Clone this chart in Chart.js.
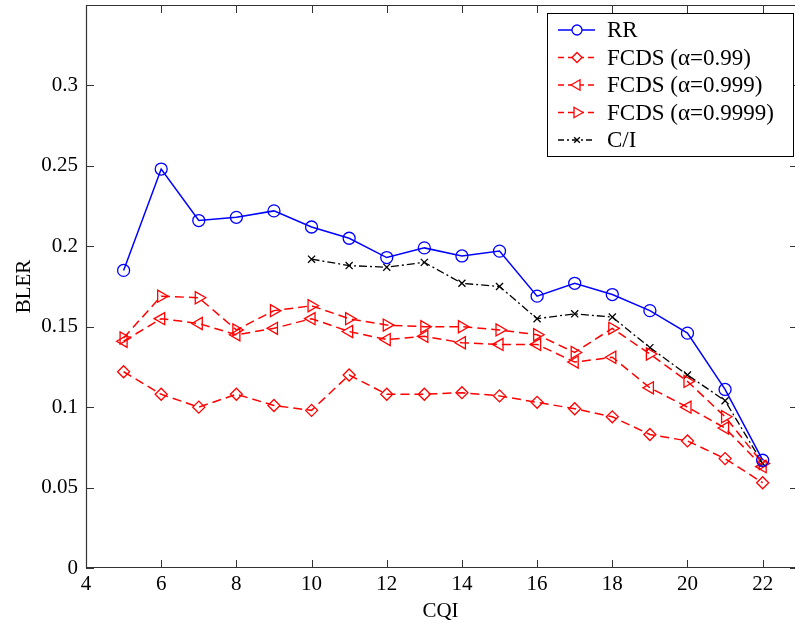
<!DOCTYPE html>
<html><head><meta charset="utf-8">
<script src="https://cdn.jsdelivr.net/npm/chart.js@4"></script>
<style>html,body{margin:0;padding:0;background:#fff}#w{width:795px;height:624px}</style>
</head><body><div id="w"><canvas id="c"></canvas></div>
<script>
const cqi = [5,6,7,8,9,10,11,12,13,14,15,16,17,18,19,20,21,22];
const cqiCI = [10,11,12,13,14,15,16,17,18,19,20,21,22];
const rr = [0.185,0.248,0.216,0.218,0.222,0.212,0.205,0.193,0.199,0.194,0.197,0.169,0.177,0.170,0.160,0.146,0.111,0.067];
const fcds99 = [0.122,0.108,0.100,0.108,0.101,0.098,0.120,0.108,0.108,0.109,0.107,0.103,0.099,0.094,0.083,0.079,0.068,0.053];
const fcds999 = [0.141,0.155,0.152,0.145,0.149,0.155,0.147,0.142,0.144,0.140,0.139,0.139,0.128,0.131,0.112,0.100,0.087,0.063];
const fcds9999 = [0.143,0.169,0.168,0.148,0.160,0.163,0.155,0.151,0.150,0.150,0.148,0.145,0.134,0.149,0.133,0.116,0.094,0.065];
const ci = [0.192,0.188,0.187,0.190,0.177,0.175,0.155,0.158,0.156,0.137,0.120,0.104,0.065];
const xTicks = [4,6,8,10,12,14,16,18,20,22];
const yTicks = [0,0.05,0.1,0.15,0.2,0.25,0.3];
const labels = ['RR','FCDS (\u03B1=0.99)','FCDS (\u03B1=0.999)','FCDS (\u03B1=0.9999)','C/I'];

const FONT = '"Liberation Serif", "Times New Roman", serif';
const pts = (xs, ys) => xs.map((x,i)=>({x, y: ys[i]}));
const RED = '#ff0000';
function ds(label, data, color, dash, style, rot, r, width){
  return {label, data, borderColor: color, backgroundColor: 'rgba(0,0,0,0)', pointBorderColor: color,
    pointBackgroundColor: 'rgba(0,0,0,0)', borderWidth: width, borderDash: dash, pointStyle: style,
    pointRotation: rot, pointRadius: r, pointBorderWidth: 1.3, tension: 0, fill: false};
}
const datasets = [
  ds(labels[0], pts(cqi, rr), '#0000ff', [], 'circle', 0, 6, 1.5),
  ds(labels[1], pts(cqi, fcds99), RED, [9,5], 'rectRot', 0, 6, 1.5),
  ds(labels[2], pts(cqi, fcds999), RED, [9,5], 'triangle', -90, 7, 1.5),
  ds(labels[3], pts(cqi, fcds9999), RED, [9,5], 'triangle', 90, 7, 1.5),
  ds(labels[4], pts(cqiCI, ci), '#000000', [8,3,2,3], 'crossRot', 0, 5, 1.3)
];

const frame = {
  id: 'frame',
  afterDatasetsDraw(chart){
    const {ctx, chartArea: a, scales: {x, y}} = chart;
    ctx.save();
    ctx.strokeStyle = '#333'; ctx.lineWidth = 1.2; ctx.setLineDash([]);
    ctx.beginPath();
    ctx.moveTo(a.right+2, a.top+0.5); ctx.lineTo(a.left+0.5, a.top+0.5);
    ctx.lineTo(a.left+0.5, a.bottom-0.5); ctx.lineTo(a.right+2, a.bottom-0.5);
    ctx.stroke();
    const tl = 8;
    ctx.lineWidth = 1;
    ctx.beginPath();
    xTicks.forEach(v=>{ const px = Math.round(x.getPixelForValue(v))+0.5;
      ctx.moveTo(px, a.bottom); ctx.lineTo(px, a.bottom-tl);
      ctx.moveTo(px, a.top); ctx.lineTo(px, a.top+tl); });
    yTicks.forEach(v=>{ const py = Math.round(y.getPixelForValue(v))+0.5;
      ctx.moveTo(a.left, py); ctx.lineTo(a.left+tl, py);
      ctx.moveTo(a.right+2, py); ctx.lineTo(a.right-5, py); });
    ctx.stroke();
    // legend
    const lx = 547, ly = 13, lw = 246, lh = 143;
    ctx.strokeStyle = '#000';
    ctx.fillStyle = '#fff'; ctx.fillRect(lx, ly, lw, lh);
    ctx.strokeRect(lx+0.5, ly+0.5, lw, lh);
    ctx.font = '23px ' + FONT; ctx.textBaseline = 'middle'; ctx.textAlign = 'left';
    chart.data.datasets.forEach((d,i)=>{
      const cy = ly + 17 + i*27.5;
      ctx.strokeStyle = d.borderColor; ctx.lineWidth = d.borderWidth;
      ctx.setLineDash(d.borderDash.length ? [6,4] : []);
      if (i===4) ctx.setLineDash([6,3,2,3]);
      ctx.beginPath(); ctx.moveTo(lx+11, cy); ctx.lineTo(lx+48, cy); ctx.stroke();
      ctx.setLineDash([]); ctx.lineWidth = 1.3;
      ctx.fillStyle = '#fff';
      Chart.helpers.drawPoint(ctx, {pointStyle: d.pointStyle, rotation: d.pointRotation, radius: d.pointRadius-1, borderWidth: 1.3}, lx+30, cy);
      ctx.fillStyle = '#000';
      ctx.fillText(d.label, lx+60, cy+1);
    });
    ctx.restore();
  }
};

new Chart(document.getElementById('c'), {
  type: 'line',
  data: { datasets },
  options: {
    responsive: true, maintainAspectRatio: false, animation: false,
    layout: { autoPadding: false, padding: { top: 5, right: 0, left: 0, bottom: 0 } },
    plugins: { legend: { display: false }, tooltip: { enabled: false } },
    scales: {
      x: { type: 'linear', min: 4, max: 22.86,
        afterBuildTicks: s => { s.ticks = xTicks.map(v=>({value: v})); },
        afterFit: s => { s.height = 56; s.paddingLeft = 0; s.paddingRight = 0; },
        grid: { display: false, drawTicks: false }, border: { display: false },
        ticks: { color: '#000', font: { family: FONT, size: 21 }, padding: 4, maxRotation: 0, autoSkip: false },
        title: { display: true, text: 'CQI', color: '#000', font: { family: FONT, size: 21 }, padding: { top: -4, bottom: 0 } } },
      y: { type: 'linear', min: 0, max: 0.35,
        afterBuildTicks: s => { s.ticks = yTicks.map(v=>({value: v})); },
        afterFit: s => { s.width = 86; s.paddingTop = 0; s.paddingBottom = 0; },
        grid: { display: false, drawTicks: false }, border: { display: false },
        ticks: { color: '#000', font: { family: FONT, size: 21 }, padding: 8, autoSkip: false,
          callback: v => String(v) },
        title: { display: true, text: 'BLER', color: '#000', font: { family: FONT, size: 21 }, padding: { top: 12, bottom: 4 } } }
    }
  },
  plugins: [frame]
});
</script></body></html>
